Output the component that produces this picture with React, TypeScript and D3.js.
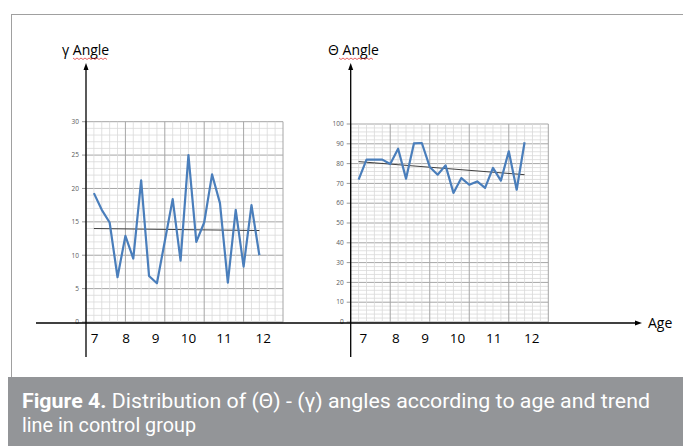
import React from 'react';
import * as d3 from 'd3';

// gamma angle per sample (control group)
const gammaValues = [19.3, 16.8, 14.9, 6.7, 12.9, 9.5, 21.2, 6.9, 5.8, 12.1, 18.4, 9.2, 25.0, 12.0, 14.9, 22.1, 17.8, 5.9, 16.8, 8.3, 17.5, 10.0];
// theta angle per sample, right panel
const thetaValues = [71.9, 82.0, 82.0, 82.0, 79.8, 87.5, 72.4, 90.2, 90.4, 78.3, 74.4, 79.1, 65.2, 72.7, 69.3, 71.0, 67.7, 77.8, 71.4, 86.2, 66.8, 90.8];
// linear trend lines: value at first and last sample
const gammaTrend = [14.0, 13.7];
const thetaTrend = [81.0, 74.4];

const ageLabels = ['7', '8', '9', '10', '11', '12'];
// sample index under which each age label sits
const gammaAgeAt = [1.1, 5.1, 8.85, 13.0, 17.5, 22.5];
const thetaAgeAt = [1.6, 5.7, 9.4, 13.5, 18.1, 22.9];

const gammaTicks = [0, 5, 10, 15, 20, 25, 30];
const thetaTicks = [0, 10, 20, 30, 40, 50, 60, 70, 80, 90, 100];

const W = 683;
const H = 446;
const AXIS_Y = 323;
const FONT = "'Open Sans', 'Liberation Sans', sans-serif";
const CAPTION_FONT = "Roboto, 'Noto Sans', sans-serif";

type PanelProps = {
  left: number;
  right: number;
  top: number;
  max: number;
  minorStep: number;
  majorStep: number;
  ticks: number[];
  values: number[];
  trend: number[];
  ageAt: number[];
  title: string;
  titleX: number;
};

function Panel(p: PanelProps) {
  const x = d3.scaleLinear().domain([0, 25]).range([p.left, p.right]);
  const y = d3.scaleLinear().domain([0, p.max]).range([322, p.top]);

  const cols = d3.range(0, 26);
  const rows = d3.range(0, p.max + 0.001, p.minorStep);

  const line = d3.line<number>()
    .x((d, i) => x(i + 1))
    .y(d => y(d));

  const n = p.values.length;

  return (
    <g>
      {/* grid */}
      {rows.map(v => {
        const major = Math.abs(v % p.majorStep) < 0.001;
        return (
          <line key={'r' + v} x1={p.left} x2={p.right} y1={y(v)} y2={y(v)}
            stroke={major ? '#a6a6a6' : '#d9d9d9'} strokeWidth={major ? 1 : 0.8} />
        );
      })}
      {cols.map(c => {
        const major = c % 5 === 0;
        return (
          <line key={'c' + c} x1={x(c)} x2={x(c)} y1={y(p.max)} y2={y(0)}
            stroke={major ? '#a6a6a6' : '#d9d9d9'} strokeWidth={major ? 1 : 0.8} />
        );
      })}

      {/* y tick labels */}
      {p.ticks.map(t => (
        <g key={'t' + t}>
          <line x1={p.left - 4} x2={p.left} y1={y(t)} y2={y(t)} stroke="#7f7f7f" strokeWidth={0.8} />
          <text x={p.left - 7} y={y(t)} dy="0.35em" textAnchor="end" fontSize={6.5}
            fill="#595959" fontFamily={FONT}>{t}</text>
        </g>
      ))}

      {/* trend line */}
      <line x1={x(1)} x2={x(n)} y1={y(p.trend[0])} y2={y(p.trend[1])}
        stroke="#404040" strokeWidth={1} />

      {/* series */}
      <path d={line(p.values) || ''} fill="none" stroke="#4a7ebb" strokeWidth={2.2}
        strokeLinejoin="round" />

      {/* y axis with arrow */}
      <line x1={p.left} x2={p.left} y1={68} y2={357} stroke="#000" strokeWidth={1.3} />
      <path d={`M${p.left},63 L${p.left - 2.5},70 L${p.left + 2.5},70 Z`} fill="#000" />

      {/* axis title */}
      <text x={p.titleX} y={55} fontSize={14} fontFamily={FONT} fill="#000">{p.title}</text>
      <WavyUnderline x={p.titleX + 11} width={34} y={58} />

      {/* age labels */}
      {ageLabels.map((a, i) => (
        <text key={'a' + a} x={x(p.ageAt[i])} y={343} textAnchor="middle" fontSize={13.5}
          fontFamily={FONT} fill="#000">{a}</text>
      ))}
    </g>
  );
}

function WavyUnderline({ x, width, y }: { x: number; width: number; y: number }) {
  const step = 2;
  let d = `M${x},${y}`;
  for (let i = 1; i * step <= width; i++) {
    d += ` L${x + i * step},${y + (i % 2 === 1 ? 1.5 : 0)}`;
  }
  return <path d={d} fill="none" stroke="#e02020" strokeWidth={0.7} />;
}

export default function App() {
  return (
    <svg width={W} height={H} style={{ display: 'block', position: 'absolute', left: 0, top: 0 }}>
      <rect x={0} y={0} width={W} height={H} fill="#fff" />

      {/* frame */}
      <line x1={11} x2={W} y1={14.5} y2={14.5} stroke="#a0a0a0" strokeWidth={1} />
      <line x1={11.5} x2={11.5} y1={14} y2={378} stroke="#a0a0a0" strokeWidth={1} />

      <Panel left={86} right={283} top={121.7} max={30} minorStep={1} majorStep={5}
        ticks={gammaTicks} values={gammaValues} trend={gammaTrend} ageAt={gammaAgeAt}
        title="γ Angle" titleX={62} />
      <Panel left={350.7} right={548.3} top={124} max={100} minorStep={2} majorStep={10}
        ticks={thetaTicks} values={thetaValues} trend={thetaTrend} ageAt={thetaAgeAt}
        title="Θ Angle" titleX={328} />

      {/* shared x axis */}
      <line x1={36} x2={636} y1={AXIS_Y} y2={AXIS_Y} stroke="#000" strokeWidth={1.3} />
      <path d={`M642,${AXIS_Y} L635,${AXIS_Y - 2.5} L635,${AXIS_Y + 2.5} Z`} fill="#000" />
      <text x={648} y={328} fontSize={14} fontFamily={FONT} fill="#000">Age</text>

      {/* caption band */}
      <rect x={8} y={377} width={W - 8} height={H - 377} fill="#939598" />
      <text x={22} y={408} fontSize={20.5} fill="#fff" fontFamily={CAPTION_FONT}
        textLength={628} lengthAdjust="spacingAndGlyphs">
        <tspan fontWeight="bold">Figure 4.</tspan> Distribution of (Θ) - (γ) angles according to age and trend
      </text>
      <text x={22} y={432} fontSize={20.5} fill="#fff" fontFamily={CAPTION_FONT}
        textLength={174} lengthAdjust="spacingAndGlyphs">
        line in control group
      </text>
    </svg>
  );
}
